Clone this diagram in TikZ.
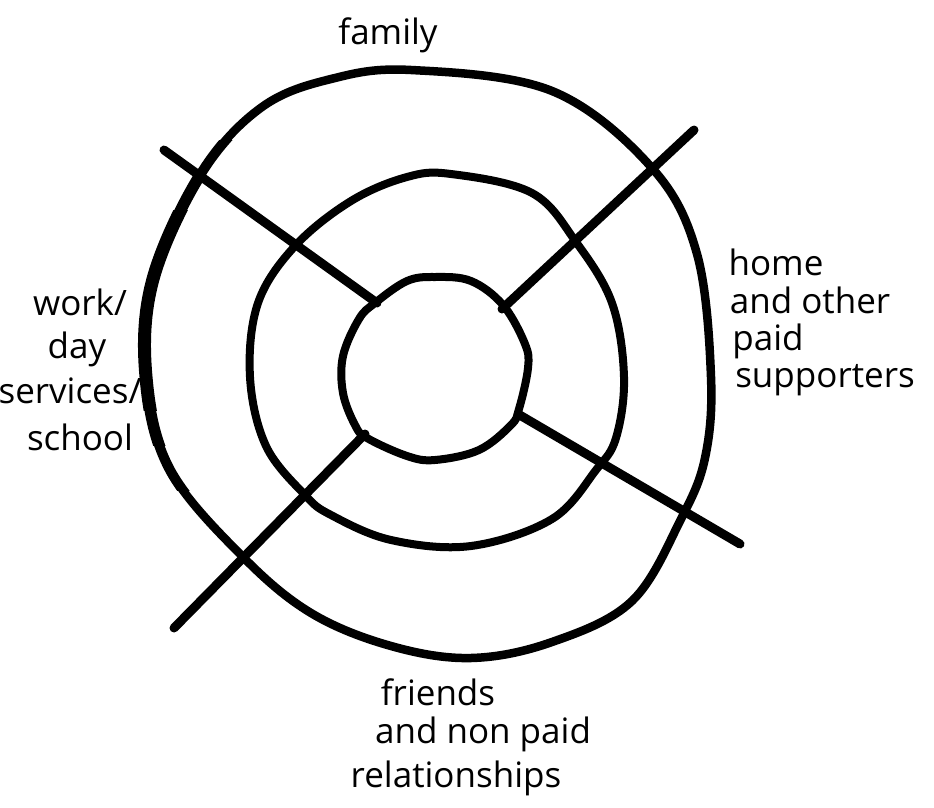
\documentclass[tikz,border=0pt]{standalone}
\usepackage{fontspec}
\setmainfont{Open Sans}
\tikzset{
  ring/.style={draw=black, line width=8pt, line join=round},
  spoke/.style={draw=black, line width=9pt, line cap=round},
  lbl/.style={font=\fontsize{35}{40}\selectfont, anchor=base, inner sep=0pt, text=black},
}
\begin{document}
\begin{tikzpicture}[x=1pt,y=-1pt]
\fill[white] (0,0) rectangle (934,808);
\useasboundingbox (0,0) rectangle (934,808);

\def\outerpts{(411,70) (552,91) (652,168) (697,254) (711,377) (705,458) (681,519)
  (632,601) (552,642) (471,658) (391,646) (311,613) (242,556) (170,470)
  (146,377) (153,279) (202,172) (262,107) (331,79)}
% outer ring
\draw[ring, line width=8.5pt] plot[smooth cycle, tension=0.6] coordinates {\outerpts};
% thicker left side of outer ring (tapering)
\begin{scope}
  \clip (100,140) rectangle (240,490);
  \draw[ring, line width=10pt] plot[smooth cycle, tension=0.6] coordinates {\outerpts};
\end{scope}
\begin{scope}
  \clip (100,175) rectangle (230,445);
  \draw[ring, line width=11.5pt] plot[smooth cycle, tension=0.6] coordinates {\outerpts};
\end{scope}
\begin{scope}
  \clip (100,210) rectangle (230,410);
  \draw[ring, line width=13pt] plot[smooth cycle, tension=0.6] coordinates {\outerpts};
\end{scope}
% middle ring
\draw[ring] plot[smooth cycle, tension=0.6] coordinates {
  (451,174) (532,193) (576,242) (612,303) (624,377) (616,438) (596,470)
  (552,519) (471,546) (391,540) (331,515) (305,495) (266,446) (250,377)
  (258,303) (295,246) (351,201) (407,177)};
% inner ring
\draw[ring] plot[smooth cycle, tension=0.6] coordinates {
  (435,277) (471,281) (503,305) (525,344) (528,368) (519,409) (511,425)
  (479,450) (435,460) (407,456) (367,438) (355,425) (343,393) (343,356)
  (359,319) (375,303) (407,281)};

% spoke end points
\coordinate (ulo) at (164,150); \coordinate (uli) at (377,303);
\coordinate (uro) at (694,130); \coordinate (uri) at (502,309);
\coordinate (lro) at (740,544); \coordinate (lri) at (518,414);
\coordinate (llo) at (174,628); \coordinate (lli) at (365,434);

\draw[spoke] (ulo) -- (uli);
\draw[spoke] (uro) -- (uri);
\draw[spoke] (lro) -- (lri);
\draw[spoke] (llo) -- (lli);

% labels
\node[lbl] (family) at (388,45) {family};

\node[lbl] (home1) at (776,275) {home};
\node[lbl] (home2) at (810,313) {and other};
\node[lbl] (home3) at (768,350) {paid};
\node[lbl] (home4) at (825,387) {supporters};

\node[lbl] (work1) at (80,315) {work/};
\node[lbl] (work2) at (77,358) {day};
\node[lbl] (work3) at (70,403) {services/};
\node[lbl] (work4) at (80,450) {school};

\node[lbl] (fr1) at (438,705) {friends};
\node[lbl] (fr2) at (483,743) {and non paid};
\node[lbl] (fr3) at (456,787) {relationships};
\end{tikzpicture}
\end{document}
